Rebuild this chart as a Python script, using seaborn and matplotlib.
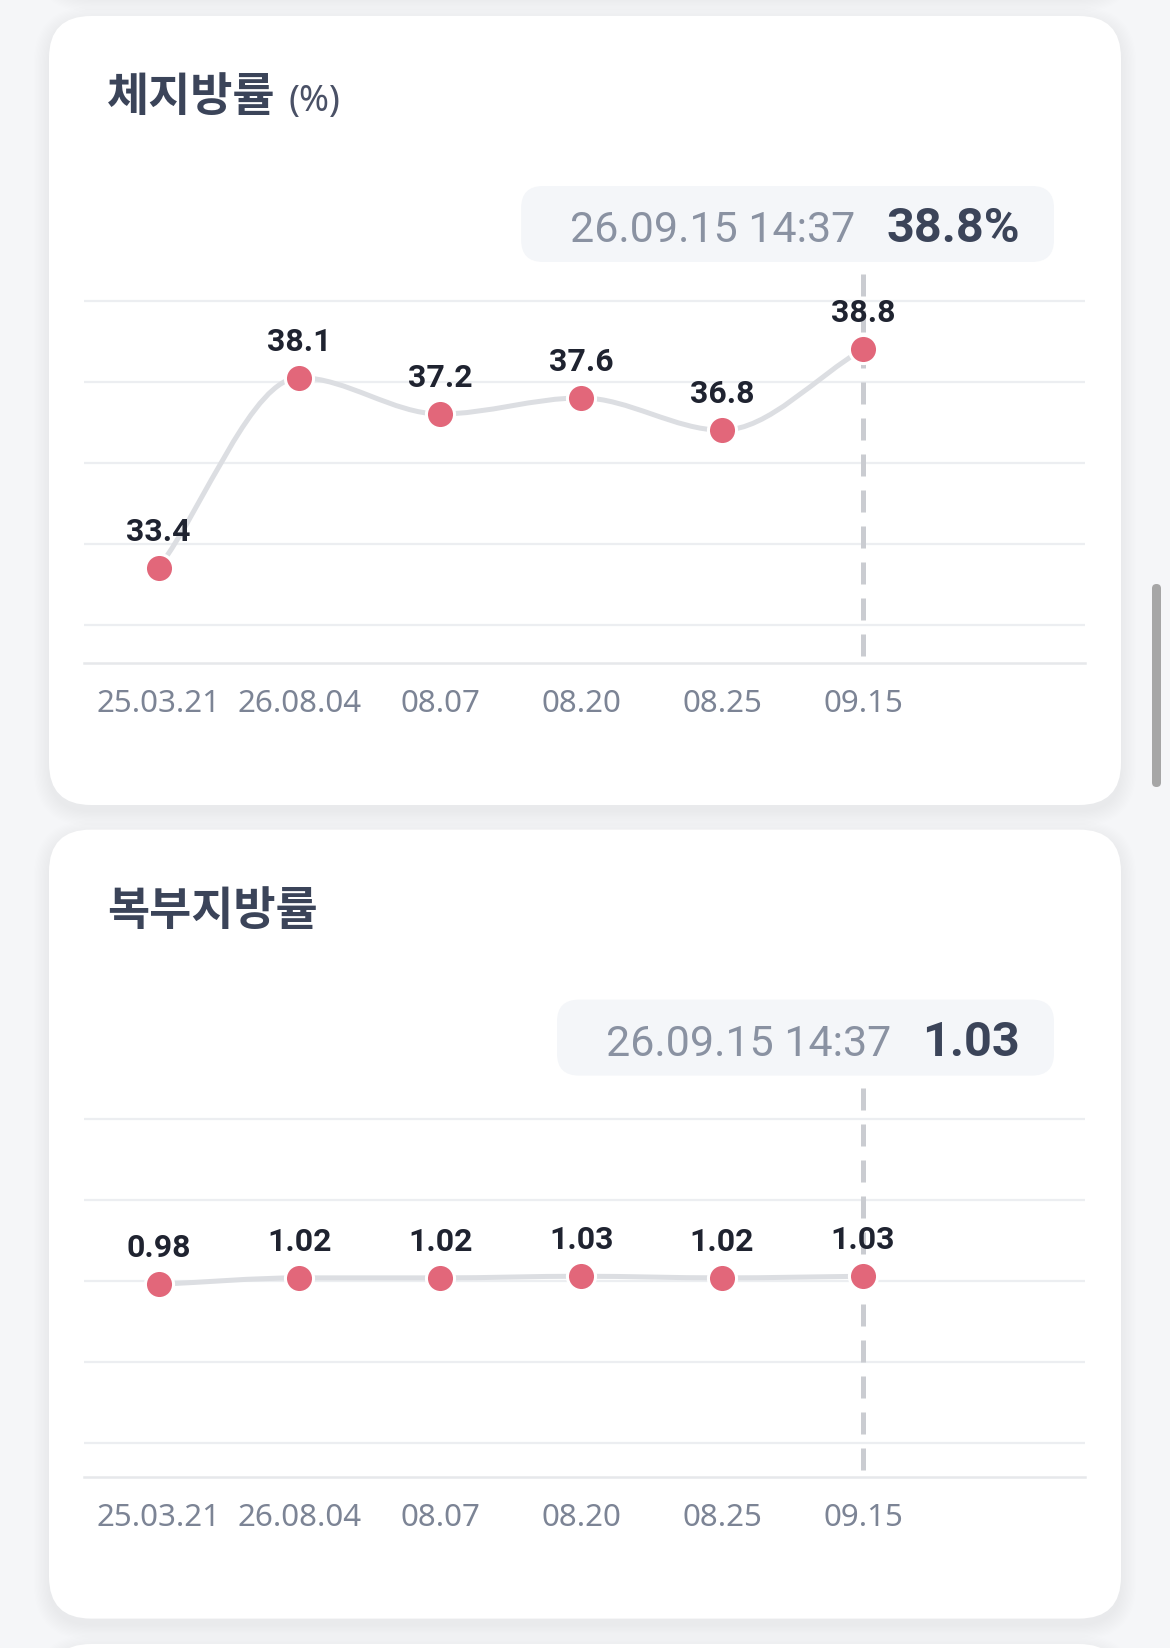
import numpy as np
import matplotlib
matplotlib.use("Agg")
import matplotlib.pyplot as plt
import seaborn as sns
from matplotlib.path import Path
from matplotlib.patches import PathPatch, FancyBboxPatch

# ---------------- data ----------------
dates = ["25.03.21", "26.08.04", "08.07", "08.20", "08.25", "09.15"]
body_fat = [33.4, 38.1, 37.2, 37.6, 36.8, 38.8]
body_fat_labels = ["33.4", "38.1", "37.2", "37.6", "36.8", "38.8"]
abdominal = [0.98, 1.02, 1.02, 1.03, 1.02, 1.03]
abdominal_labels = ["0.98", "1.02", "1.02", "1.03", "1.02", "1.03"]
body_fat_ticks = [32, 34, 36, 38, 40]
abdominal_ticks = [0.0, 0.5, 1.0, 1.5, 2.0]
tooltip_time = "26.09.15 14:37"
body_fat_tooltip = "38.8%"
abdominal_tooltip = "1.03"
titles = ["체지방률", "복부지방률"]
title_units = ["(%)", ""]

# ---------------- style ----------------
sns.set_theme(style="white")
plt.rcParams["font.family"] = ["Noto Sans", "Noto Sans CJK KR", "DejaVu Sans"]

W, H, DPI = 1170, 1649, 100
BG = "#f5f6f8"
TITLE_C = "#3b4459"
LINE_C = "#dcdee2"
DOT_C = "#e2677a"
GRID_C = "#eceef1"
TICK_C = "#7c8495"
LABEL_C = "#1f2330"
BOLD_FAM = ["Roboto", "Liberation Sans", "DejaVu Sans"]

fig = plt.figure(figsize=(W / DPI, H / DPI), dpi=DPI)
fig.patch.set_facecolor(BG)
bg = fig.add_axes([0, 0, 1, 1], zorder=0)
bg.set_xlim(0, W)
bg.set_ylim(H, 0)
bg.axis("off")


def draw_card(y0, y1):
    for i in range(12):
        g = 1 + i * 1.3
        bg.add_patch(FancyBboxPatch((49 - g, y0 - g + 6), 1072 + 2 * g, (y1 - y0) + 2 * g,
                                    boxstyle=f"round,pad=0,rounding_size={42 + g}",
                                    fc="#1c2333", ec="none", alpha=0.0055, zorder=1))
    bg.add_patch(FancyBboxPatch((49, y0), 1072, y1 - y0,
                                boxstyle="round,pad=0,rounding_size=42",
                                fc="white", ec="none", zorder=2))


def monotone_path(xs, ys):
    xs = np.asarray(xs, float)
    ys = np.asarray(ys, float)
    n = len(xs)
    dx = np.diff(xs)
    d = np.diff(ys) / dx
    m = np.zeros(n)
    m[0], m[-1] = d[0], d[-1]
    for k in range(1, n - 1):
        m[k] = 0.0 if d[k - 1] * d[k] <= 0 else (d[k - 1] + d[k]) / 2
    for k in range(n - 1):
        if abs(d[k]) < 1e-12:
            m[k] = m[k + 1] = 0.0
            continue
        a, b = m[k] / d[k], m[k + 1] / d[k]
        s = a * a + b * b
        if s > 9:
            t = 3 / np.sqrt(s)
            m[k], m[k + 1] = t * a * d[k], t * b * d[k]
    verts = [(xs[0], ys[0])]
    codes = [Path.MOVETO]
    for k in range(n - 1):
        h = dx[k] / 3
        verts += [(xs[k] + h, ys[k] + m[k] * h), (xs[k + 1] - h, ys[k + 1] - m[k + 1] * h),
                  (xs[k + 1], ys[k + 1])]
        codes += [Path.CURVE4] * 3
    return Path(verts, codes)


# cards (previous card above, two chart cards, next card below)
draw_card(-900, -8)
draw_card(17, 806)
draw_card(830.6, 1619.6)
draw_card(1645, 2600)

# scrollbar
bg.add_patch(FancyBboxPatch((1152, 585), 9, 203, boxstyle="round,pad=0,rounding_size=4.5",
                            fc="#a6a6a6", ec="none", zorder=5))

renderer = fig.canvas.get_renderer()

panels = [
    (body_fat, body_fat_labels, body_fat_ticks, (31.039, 40.907), body_fat_tooltip),
    (abdominal, abdominal_labels, abdominal_ticks, (-0.2100, 2.2570), abdominal_tooltip),
]

for p, (vals, labs, ticks, ylim, tip) in enumerate(panels):
    dy = p * 813.6
    x_idx = list(range(len(dates)))

    # title
    t = bg.text(107, 111 + dy, titles[p], fontsize=33, fontweight="bold", color=TITLE_C,
                family=["Noto Sans CJK KR", "DejaVu Sans"], va="baseline", ha="left", zorder=4)
    if title_units[p]:
        bb = t.get_window_extent(renderer)
        bg.text(bb.x1 + 13, 111 + dy, title_units[p], fontsize=26, color="#4a5166",
                family=["Noto Sans", "DejaVu Sans"], va="baseline", ha="left", zorder=4)

    # tooltip
    base = 242 + dy
    tv = bg.text(1020, base, tip, fontsize=35, fontweight="bold", color=TITLE_C,
                 family=BOLD_FAM, ha="right", va="baseline", zorder=4)
    vb = tv.get_window_extent(renderer)
    td = bg.text(vb.x0 - 31, base, tooltip_time, fontsize=31, color="#8a92a2",
                 family=["Roboto", "DejaVu Sans"], ha="right", va="baseline", zorder=4)
    db = td.get_window_extent(renderer)
    bx0 = db.x0 - 49
    bg.add_patch(FancyBboxPatch((bx0, 187 + dy), 1054 - bx0, 76,
                                boxstyle="round,pad=0,rounding_size=22",
                                fc="#f4f6f9", ec="none", zorder=3))

    # chart axes
    top_px, bot_px = 265 + dy, 664.4 + dy
    ax = fig.add_axes([84 / W, 1 - bot_px / H, (1084.8 - 84) / W, (bot_px - top_px) / H], zorder=3)
    ax.set_facecolor("none")
    ax.set_xlim(-0.5296, 6.5746)
    ax.set_ylim(*ylim)
    ax.set_yticks(ticks)
    ax.set_yticklabels([])
    ax.yaxis.grid(True, color=GRID_C, lw=1.6)
    ax.xaxis.grid(False)
    ax.set_axisbelow(True)
    for s in ["left", "right", "top"]:
        ax.spines[s].set_visible(False)
    ax.spines["bottom"].set_color("#e6e8eb")
    ax.spines["bottom"].set_linewidth(1.8)
    ax.set_xticks(x_idx)
    ax.set_xticklabels(dates, fontsize=22.5, color=TICK_C, family=["Noto Sans", "DejaVu Sans"])
    ax.tick_params(axis="both", length=0)
    ax.tick_params(axis="x", pad=18)

    # smooth line
    ax.add_patch(PathPatch(monotone_path(x_idx, vals), fill=False, ec=LINE_C, lw=3.6,
                           capstyle="round", joinstyle="round", zorder=2))

    # dashed crosshair at latest point
    ax.axvline(x_idx[-1], ymin=(664.4 - 657) / (664.4 - 265), ymax=(664.4 - 273) / (664.4 - 265),
               color="#caccd1", lw=3.6, ls=(0, (4.4, 2.8)), dash_capstyle="butt", zorder=2.5)

    # points
    sns.scatterplot(x=x_idx, y=vals, ax=ax, s=410, color=DOT_C, edgecolor="white",
                    linewidth=2.2, zorder=4, legend=False)
    ax.set_xlabel("")
    ax.set_ylabel("")

    # value labels
    for xi, v, lab in zip(x_idx, vals, labs):
        ax.annotate(lab, (xi, v), xytext=(0, 26.6), textcoords="offset points",
                    ha="center", va="center", fontsize=23, fontweight="bold",
                    color=LABEL_C, family=BOLD_FAM, zorder=5)

fig.savefig("out.png", dpi=DPI, facecolor=BG)
